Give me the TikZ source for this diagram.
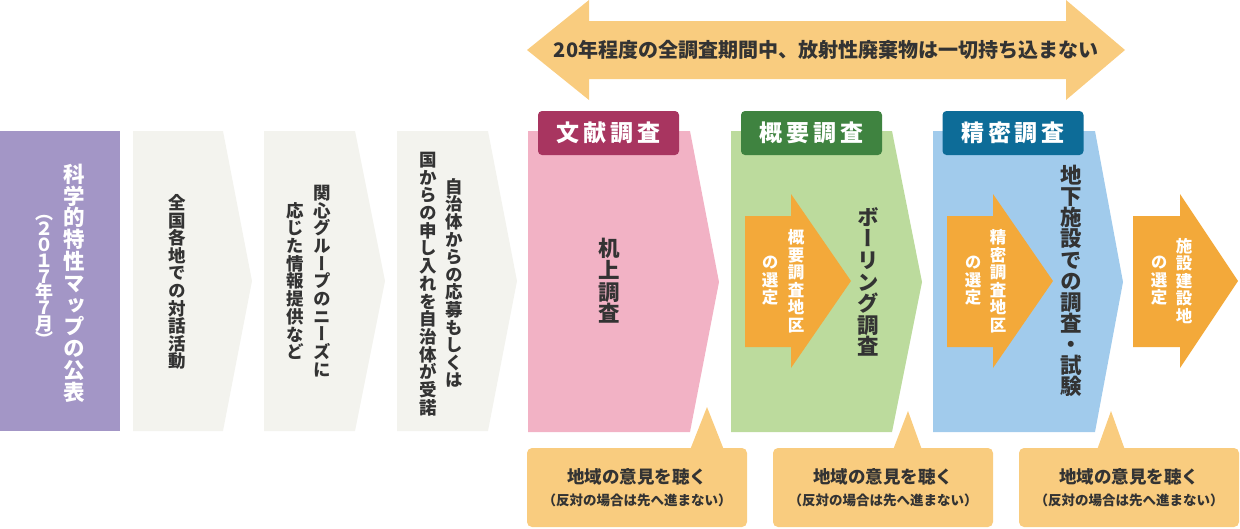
\documentclass[tikz,border=0pt]{standalone}
\usepackage{fontspec}
\newfontfamily\jp{Noto Sans CJK JP}
\newfontfamily\vjp{Noto Sans CJK JP}[RawFeature=+vert]
\definecolor{purp}{HTML}{A396C6}
\definecolor{grayc}{HTML}{F3F3EE}
\definecolor{pinkc}{HTML}{F2B2C5}
\definecolor{pinkd}{HTML}{A83560}
\definecolor{greenc}{HTML}{BCDB9D}
\definecolor{greend}{HTML}{3F8340}
\definecolor{bluec}{HTML}{A1CBEC}
\definecolor{blued}{HTML}{0D6C98}
\definecolor{orangec}{HTML}{F3A93A}
\definecolor{lorange}{HTML}{F9CC7F}
\definecolor{txt}{HTML}{333333}
\makeatletter
\newcommand\vtxt[3]{\vbox{\fontsize{#1}{#2}\selectfont\vjp\bfseries
  \baselineskip=#2pt\lineskiplimit=-1000pt\lineskip=0pt
  \@tfor\vt@c:=#3\do{\hbox to #1pt{\hss\vt@c\hss}}}}
\makeatother
\tikzset{
  vt/.style={inner sep=0pt, text=txt},
  wt/.style={inner sep=0pt, text=white},
  phase/.style={rounded corners=4pt, minimum width=141pt, minimum height=44pt,
    inner sep=0pt, text=white, font={\jp\bfseries\fontsize{23}{27}\selectfont}},
  callbox/.style={fill=lorange, rounded corners=5pt, minimum width=220pt,
    minimum height=79pt, inner sep=0pt},
  cline1/.style={inner sep=0pt, text=txt, font={\jp\bfseries\fontsize{17.5}{20}\selectfont}},
  cline2/.style={inner sep=0pt, text=txt, font={\jp\bfseries\fontsize{13.5}{16}\selectfont}},
}
\begin{document}
\begin{tikzpicture}[x=1pt,y=-1pt]
\useasboundingbox (0,0) rectangle (1240,528);
% top double arrow
\fill[lorange] (527,50) -- (589,0) -- (589,21) -- (1066,21) -- (1066,0) -- (1125,50)
  -- (1066,100) -- (1066,79) -- (589,79) -- (589,100) -- cycle;
\node[inner sep=0pt, text=txt, font={\jp\bfseries\fontsize{20}{24}\selectfont}] (toptext) at (826,50)
  {20年程度の全調査期間中、放射性廃棄物は一切持ち込まない};
% left blocks
\fill[purp] (0,131) rectangle (120,431);
\fill[grayc] (133,131) -- (223,131) -- (252,281) -- (223,431) -- (133,431) -- cycle;
\fill[grayc] (264,131) -- (355,131) -- (385,281) -- (355,431) -- (264,431) -- cycle;
\fill[grayc] (397,131) -- (488,131) -- (517,281) -- (488,431) -- (397,431) -- cycle;
% phases
\fill[pinkc] (528,131) -- (690,131) -- (719,282) -- (690,432) -- (528,432) -- cycle;
\fill[greenc] (731,131) -- (892,131) -- (922,282) -- (892,432) -- (731,432) -- cycle;
\fill[bluec] (933,131) -- (1095,131) -- (1123,282) -- (1095,432) -- (933,432) -- cycle;
\node[phase, fill=pinkd] (l1) at (608.5,133) {文\,献\,調\,査};
\node[phase, fill=greend] (l2) at (811.5,133) {概\,要\,調\,査};
\node[phase, fill=blued] (l3) at (1013,133) {精\,密\,調\,査};
% orange arrows
\fill[orangec] (745,216) -- (791,216) -- (791,194) -- (851,281) -- (791,368) -- (791,347) -- (745,347) -- cycle;
\fill[orangec] (947,216) -- (993,216) -- (993,194) -- (1053,281) -- (993,368) -- (993,347) -- (947,347) -- cycle;
\fill[orangec] (1133,216) -- (1180,216) -- (1180,194) -- (1238,281) -- (1180,368) -- (1180,347) -- (1133,347) -- cycle;
% vertical texts
\node[wt] (p1) at (74,283) {\vtxt{21.5}{21.8}{科学的特性マップの公表}};
\node[wt] (p2) at (44,281) {\vtxt{18}{15.8}{（２０１７年７月）}};
\node[vt] (g1) at (177,282) {\vtxt{17.5}{17.6}{全国各地での対話活動}};
\node[vt] (g2a) at (322,281) {\vtxt{17.5}{17.7}{関心グループのニーズに}};
\node[vt] (g2b) at (295,281) {\vtxt{17.5}{17.7}{応じた情報提供など}};
\node[vt] (g3a) at (454,283) {\vtxt{17.5}{17.6}{自治体からの応募もしくは}};
\node[vt] (g3b) at (428,284) {\vtxt{17.5}{17.7}{国からの申し入れを自治体が受諾}};
\node[vt] (k1) at (609,281) {\vtxt{21.5}{21.7}{机上調査}};
\node[wt] (o1a) at (796,281) {\vtxt{16.5}{17.5}{概要調査地区}};
\node[wt] (o1b) at (770,281) {\vtxt{16.5}{17.5}{の選定}};
\node[vt] (k2) at (868,282) {\vtxt{21.5}{21.6}{ボーリング調査}};
\node[wt] (o2a) at (998,281) {\vtxt{16.5}{17.5}{精密調査地区}};
\node[wt] (o2b) at (973,281) {\vtxt{16.5}{17.5}{の選定}};
\node[vt] (k3) at (1071,281) {\vtxt{21.5}{21.1}{地下施設での調査・試験}};
\node[wt] (o3a) at (1184,281) {\vtxt{16.5}{17.5}{施設建設地}};
\node[wt] (o3b) at (1159,281) {\vtxt{16.5}{17.5}{の選定}};
% callouts
\fill[lorange] (690,450) -- (707,407) -- (724,450) -- cycle;
\fill[lorange] (893,450) -- (908,411) -- (922,450) -- cycle;
\fill[lorange] (1097,450) -- (1111,411) -- (1125,450) -- cycle;
\node[callbox] (c1) at (637,487.5) {};
\node[callbox] (c2) at (883,487.5) {};
\node[callbox] (c3) at (1129,487.5) {};
\node[cline1] (c1a) at (637,477) {地域の意見を聴く};
\node[cline2] (c1b) at (637,500) {（反対の場合は先へ進まない）};
\node[cline1] (c2a) at (883,477) {地域の意見を聴く};
\node[cline2] (c2b) at (883,500) {（反対の場合は先へ進まない）};
\node[cline1] (c3a) at (1129,477) {地域の意見を聴く};
\node[cline2] (c3b) at (1129,500) {（反対の場合は先へ進まない）};
\end{tikzpicture}
\end{document}
